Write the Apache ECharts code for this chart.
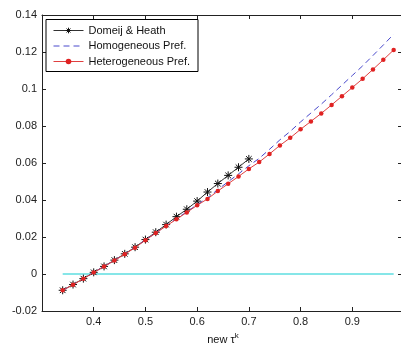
<!DOCTYPE html>
<html>
<head>
<meta charset="utf-8">
<script src="https://cdn.jsdelivr.net/npm/echarts@6/dist/echarts.min.js"></script>
<style>
  html, body { margin: 0; padding: 0; background: #fff; }
  #chart { width: 401px; height: 348px; }
</style>
</head>
<body>
<div id="chart"></div>
<script>
// x grids
var tauShort = [0.34, 0.36, 0.38, 0.40, 0.42, 0.44, 0.46, 0.48, 0.50, 0.52,
                0.54, 0.56, 0.58, 0.60, 0.62, 0.64, 0.66, 0.68, 0.70];
var tauLong = [0.34, 0.36, 0.38, 0.40, 0.42, 0.44, 0.46, 0.48, 0.50, 0.52,
               0.54, 0.56, 0.58, 0.60, 0.62, 0.64, 0.66, 0.68, 0.70, 0.72,
               0.74, 0.76, 0.78, 0.80, 0.82, 0.84, 0.86, 0.88, 0.90, 0.92,
               0.94, 0.96, 0.98];

// series values
var domeijHeath = [-0.0088, -0.0057, -0.0025, 0.0009, 0.0041, 0.0075, 0.0109, 0.0145, 0.0186, 0.0226,
                   0.0267, 0.0310, 0.0350, 0.0394, 0.0443, 0.0489, 0.0533, 0.0577, 0.0622];
var homogeneous = [-0.0088, -0.0057, -0.0025, 0.0009, 0.0041, 0.0074, 0.0108, 0.0144, 0.0184, 0.0222,
                   0.0261, 0.0299, 0.0336, 0.0375, 0.0412, 0.0456, 0.0499, 0.0541, 0.0585, 0.0625,
                   0.0674, 0.0725, 0.0771, 0.0822, 0.0870, 0.0918, 0.0969, 0.1021, 0.1073, 0.1125,
                   0.1181, 0.1238, 0.1296];
var heterogeneous = [-0.0088, -0.0058, -0.0026, 0.0008, 0.0040, 0.0073, 0.0107, 0.0142, 0.0183, 0.0221,
                     0.0259, 0.0296, 0.0333, 0.0371, 0.0406, 0.0448, 0.0488, 0.0527, 0.0568, 0.0605,
                     0.0649, 0.0695, 0.0736, 0.0782, 0.0825, 0.0868, 0.0914, 0.0961, 0.1008, 0.1055,
                     0.1106, 0.1158, 0.1211];
var zeroLineX = [0.34, 0.98];
var zeroLineY = [0, 0];

function pairs(xs, ys) {
    return xs.map(function (x, i) { return [x, ys[i]]; });
}

var font = 'Liberation Sans, Arial, sans-serif';
var axisColor = '#222';
var star = 'path://M5,0L5,10M0,5L10,5M1.5,1.5L8.5,8.5M1.5,8.5L8.5,1.5';
var tickFmt = function (v) { return String(parseFloat(v.toFixed(2))); };

var chart = echarts.init(document.getElementById('chart'), null, { renderer: 'canvas' });
var option = {
    backgroundColor: '#fff',
    animation: false,
    textStyle: { fontFamily: font },
    grid: { left: 42, right: -3, top: 15, bottom: 37, outerBoundsMode: 'none', containLabel: false },
    legend: {
        orient: 'vertical',
        left: 46,
        top: 19.5,
        padding: [5, 8, 4, 7],
        itemGap: 3.5,
        itemWidth: 30,
        itemHeight: 7,
        borderColor: '#000',
        borderWidth: 1,
        backgroundColor: '#fff',
        lineStyle: { width: 1 },
        textStyle: { fontFamily: font, fontSize: 11, color: '#111', lineHeight: 12 },
        data: [
            { name: 'Domeij & Heath', itemStyle: { color: 'rgba(0,0,0,0)', borderColor: '#111', borderWidth: 1 } },
            { name: 'Homogeneous Pref.', itemStyle: { opacity: 0 } },
            { name: 'Heterogeneous Pref.' }
        ]
    },
    xAxis: [{
        type: 'value',
        min: 0.3,
        max: 1.0,
        interval: 0.1,
        name: 'new τ{sup|k}',
        nameLocation: 'middle',
        nameGap: 20,
        nameTextStyle: {
            fontFamily: font, fontSize: 11, color: '#111',
            rich: { sup: { fontSize: 8, verticalAlign: 'bottom', padding: [0, 0, 9, 0], fontFamily: font, color: '#111' } }
        },
        axisLine: { onZero: false, lineStyle: { color: axisColor, width: 1 } },
        axisTick: { inside: true, length: 4, lineStyle: { color: axisColor } },
        axisLabel: {
            showMinLabel: false, showMaxLabel: false, margin: 5,
            fontFamily: font, fontSize: 11, color: '#222', formatter: tickFmt
        },
        splitLine: { show: false }
    }, {
        type: 'value',
        position: 'top',
        min: 0.3,
        max: 1.0,
        interval: 0.1,
        axisLine: { onZero: false, lineStyle: { color: axisColor, width: 1 } },
        axisTick: { inside: true, length: 4, lineStyle: { color: axisColor } },
        axisLabel: { show: false },
        splitLine: { show: false }
    }],
    yAxis: [{
        type: 'value',
        min: -0.02,
        max: 0.14,
        interval: 0.02,
        axisLine: { show: true, onZero: false, lineStyle: { color: axisColor, width: 1 } },
        axisTick: { show: true, inside: true, length: 4, lineStyle: { color: axisColor } },
        axisLabel: { margin: 5, fontFamily: font, fontSize: 11, color: '#222', formatter: tickFmt },
        splitLine: { show: false }
    }, {
        type: 'value',
        position: 'right',
        min: -0.02,
        max: 0.14,
        interval: 0.02,
        axisLine: { show: true, onZero: false, lineStyle: { color: axisColor, width: 1 } },
        axisTick: { show: true, inside: true, length: 6, lineStyle: { color: axisColor } },
        axisLabel: { show: false },
        splitLine: { show: false }
    }],
    series: [{
        name: 'zero',
        type: 'line',
        data: pairs(zeroLineX, zeroLineY),
        symbol: 'none',
        lineStyle: { color: '#86e6e8', width: 2 },
        z: 1
    }, {
        name: 'Domeij & Heath',
        type: 'line',
        data: pairs(tauShort, domeijHeath),
        color: '#111',
        symbol: star,
        symbolSize: 8,
        itemStyle: { color: 'rgba(0,0,0,0)', borderColor: '#111', borderWidth: 1 },
        lineStyle: { color: '#333', width: 1 },
        z: 2
    }, {
        name: 'Homogeneous Pref.',
        type: 'line',
        data: pairs(tauLong, homogeneous),
        color: '#4848cc',
        symbol: 'none',
        lineStyle: { color: '#4848cc', width: 1, type: [6, 4] },
        z: 3
    }, {
        name: 'Heterogeneous Pref.',
        type: 'line',
        data: pairs(tauLong, heterogeneous),
        color: '#e02222',
        symbol: 'circle',
        symbolSize: 4.5,
        itemStyle: { color: '#e02222' },
        lineStyle: { color: '#e04040', width: 1 },
        z: 4
    }]
};
chart.setOption(option);
</script>
</body>
</html>
